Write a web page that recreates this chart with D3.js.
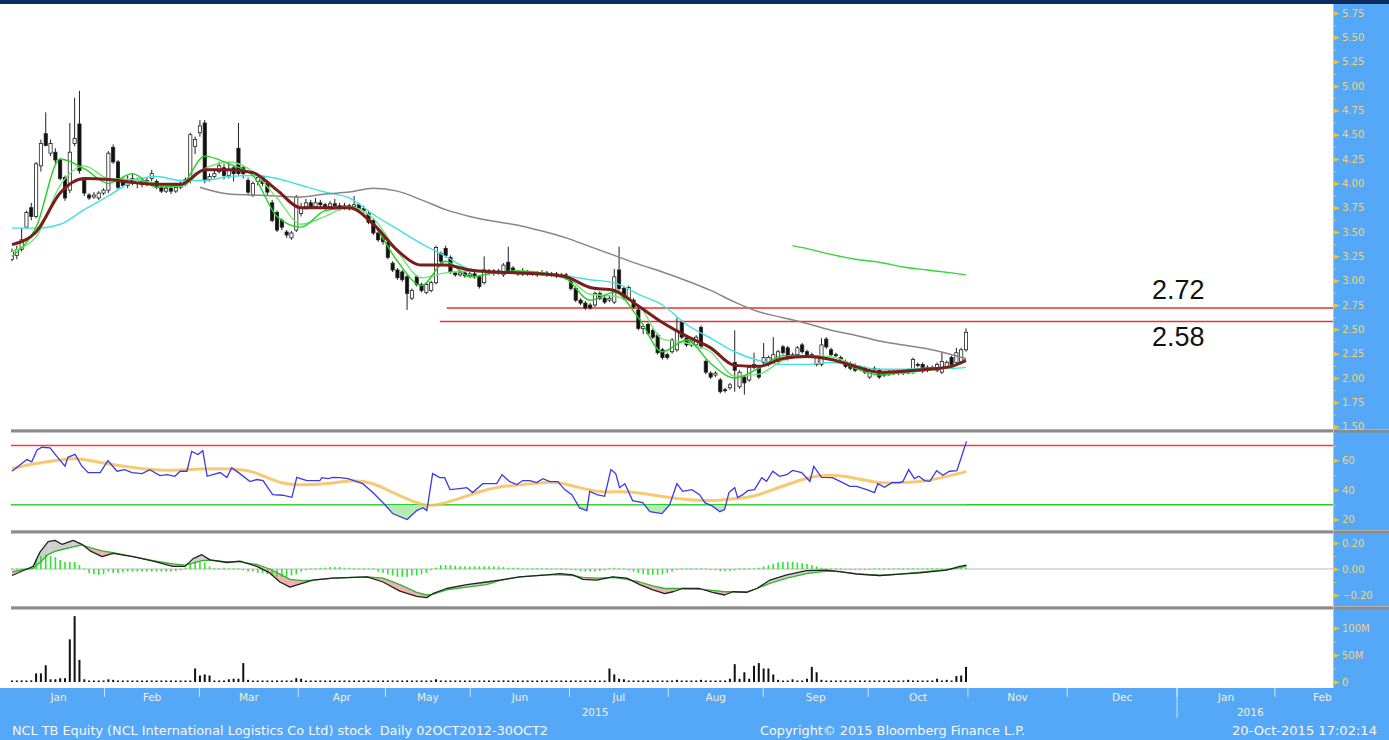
<!DOCTYPE html>
<html>
<head>
<meta charset="utf-8">
<script src="https://cdnjs.cloudflare.com/ajax/libs/d3/7.8.5/d3.min.js"></script>
<style>
  body { margin: 0; background: #fff; }
  svg { display: block; }
</style>
</head>
<body>
<svg id="chart" width="1389" height="740"></svg>
<script>
// ---- daily candles, trading day 0 .. 198 (Jan - 20 Oct 2015) ----
const openPx = [
  3.22,3.26,3.32,3.55,3.75,3.66,4.18,4.51,4.31,4.32,
  4.24,4.06,3.93,4.41,4.61,4.03,3.88,3.86,3.85,3.90,
  3.93,4.37,4.22,4.03,3.98,4.05,4.00,4.03,3.99,4.05,
  4.02,3.96,3.92,3.95,3.92,3.96,3.99,4.03,4.38,4.52,
  4.62,4.04,4.07,4.12,4.16,4.08,4.16,4.36,4.16,4.03,
  3.88,4.02,4.06,4.00,3.80,3.70,3.62,3.50,3.44,3.52,
  3.69,3.76,3.80,3.76,3.80,3.78,3.76,3.79,3.77,3.75,
  3.77,3.76,3.78,3.74,3.69,3.62,3.49,3.44,3.39,3.18,
  3.11,3.09,3.04,2.82,3.04,2.96,2.88,2.90,2.98,3.28,
  3.33,3.24,3.08,3.06,3.08,3.05,3.07,3.04,2.98,3.10,
  3.08,3.10,3.06,3.19,3.13,3.09,3.07,3.09,3.07,3.08,
  3.06,3.08,3.06,3.07,3.05,3.06,3.01,2.92,2.80,2.77,
  2.75,2.75,2.87,2.82,2.80,2.78,3.11,2.92,2.82,2.80,
  2.70,2.51,2.55,2.49,2.44,2.29,2.24,2.27,2.29,2.57,
  2.41,2.34,2.34,2.52,2.17,2.05,2.03,1.98,1.88,1.90,
  2.16,1.91,2.01,1.98,2.11,2.10,2.16,2.14,2.17,2.17,
  2.32,2.31,2.22,2.24,2.34,2.27,2.24,2.14,2.14,2.40,
  2.29,2.24,2.21,2.17,2.15,2.13,2.10,2.10,2.01,2.09,
  2.08,2.05,2.04,2.06,2.05,2.07,2.05,2.06,2.14,2.14,
  2.11,2.10,2.08,2.06,2.12,2.21,2.16,2.17,2.29
];
const highPx = [
  3.33,3.36,3.54,3.72,3.80,4.22,4.45,4.73,4.45,4.36,
  4.26,4.08,4.62,4.88,4.95,4.06,3.90,3.91,3.92,3.95,
  4.33,4.40,4.24,4.06,4.08,4.10,4.06,4.05,4.06,4.14,
  4.04,3.98,3.98,3.97,3.98,4.02,4.06,4.52,4.48,4.65,
  4.65,4.10,4.14,4.22,4.20,4.22,4.18,4.62,4.18,4.06,
  4.02,4.08,4.08,4.03,3.83,3.72,3.64,3.52,3.51,3.88,
  3.80,3.84,3.83,3.85,3.83,3.80,3.82,3.84,3.80,3.80,
  3.79,3.87,3.80,3.77,3.72,3.64,3.51,3.46,3.41,3.20,
  3.13,3.11,3.06,2.92,3.06,2.98,2.98,3.00,3.36,3.30,
  3.36,3.26,3.10,3.11,3.10,3.09,3.10,3.06,3.25,3.12,
  3.12,3.12,3.18,3.35,3.15,3.11,3.13,3.11,3.10,3.10,
  3.11,3.10,3.09,3.09,3.08,3.08,3.03,2.94,2.82,2.79,
  2.77,2.89,2.89,2.84,2.85,3.12,3.35,2.94,2.95,2.82,
  2.72,2.55,2.57,2.51,2.46,2.31,2.26,2.41,2.62,2.59,
  2.43,2.41,2.44,2.54,2.19,2.07,2.07,2.00,1.90,1.95,
  2.49,2.08,2.03,2.13,2.26,2.12,2.36,2.23,2.42,2.29,
  2.34,2.33,2.26,2.33,2.36,2.29,2.26,2.23,2.41,2.42,
  2.31,2.26,2.23,2.19,2.17,2.15,2.13,2.12,2.10,2.12,
  2.10,2.07,2.08,2.08,2.09,2.09,2.10,2.21,2.16,2.16,
  2.13,2.13,2.16,2.26,2.18,2.23,2.31,2.31,2.51
];
const lowPx = [
  3.20,3.22,3.30,3.54,3.62,3.64,4.12,4.38,4.28,4.20,
  4.03,3.82,3.90,4.38,4.10,3.87,3.83,3.84,3.83,3.88,
  3.90,4.20,3.94,3.96,3.95,3.98,3.95,3.96,3.97,4.02,
  3.94,3.90,3.90,3.89,3.90,3.94,3.97,4.00,4.30,4.48,
  4.00,4.02,4.05,4.10,4.04,4.05,4.02,4.08,4.05,3.88,
  3.86,3.98,3.97,3.88,3.60,3.50,3.52,3.44,3.42,3.50,
  3.66,3.73,3.74,3.74,3.75,3.73,3.74,3.75,3.72,3.73,
  3.72,3.74,3.72,3.70,3.58,3.47,3.40,3.37,3.22,3.09,
  3.01,2.99,2.70,2.80,2.94,2.88,2.86,2.88,2.96,3.18,
  3.24,3.07,3.04,3.04,3.03,3.03,3.02,2.92,2.96,3.06,
  3.05,3.06,3.04,3.07,3.07,3.05,3.05,3.05,3.05,3.04,
  3.05,3.04,3.04,3.03,3.03,3.01,2.90,2.78,2.75,2.70,
  2.70,2.73,2.80,2.76,2.78,2.76,2.90,2.80,2.80,2.71,
  2.49,2.45,2.44,2.40,2.24,2.19,2.19,2.25,2.27,2.40,
  2.32,2.32,2.32,2.30,2.04,1.99,2.01,1.84,1.85,1.88,
  1.86,1.89,1.83,1.96,2.09,1.99,2.14,2.12,2.15,2.15,
  2.24,2.18,2.20,2.22,2.25,2.22,2.21,2.12,2.12,2.30,
  2.22,2.21,2.17,2.10,2.08,2.06,2.08,2.04,1.99,2.07,
  1.99,2.01,2.02,2.03,2.03,2.03,2.04,2.04,2.11,2.05,
  2.06,2.08,2.06,2.04,2.10,2.12,2.14,2.15,2.27
];
const closePx = [
  3.30,3.32,3.42,3.70,3.66,4.20,4.41,4.39,4.41,4.24,
  4.05,3.85,4.32,4.46,4.13,3.90,3.85,3.88,3.90,3.93,
  4.31,4.22,3.96,3.98,4.02,4.00,4.04,3.99,4.03,4.10,
  3.96,3.92,3.95,3.92,3.96,4.00,4.04,4.50,4.45,4.59,
  4.03,4.07,4.10,4.18,4.08,4.14,4.10,4.10,4.10,3.91,
  4.00,4.06,4.00,3.91,3.62,3.52,3.55,3.47,3.49,3.86,
  3.75,3.80,3.76,3.80,3.78,3.76,3.79,3.77,3.75,3.77,
  3.74,3.78,3.74,3.72,3.60,3.49,3.42,3.40,3.24,3.11,
  3.03,3.01,2.87,2.90,2.96,2.90,2.96,2.98,3.34,3.20,
  3.26,3.09,3.06,3.08,3.05,3.07,3.04,2.94,3.11,3.08,
  3.10,3.08,3.16,3.09,3.09,3.07,3.09,3.07,3.08,3.06,
  3.08,3.06,3.07,3.05,3.06,3.03,2.92,2.80,2.77,2.72,
  2.72,2.87,2.82,2.78,2.82,3.04,2.92,2.82,2.93,2.73,
  2.51,2.53,2.46,2.42,2.26,2.21,2.21,2.39,2.49,2.42,
  2.34,2.39,2.42,2.32,2.06,2.01,2.05,1.86,1.87,1.93,
  2.08,2.06,1.95,2.11,2.14,2.01,2.21,2.21,2.24,2.27,
  2.26,2.20,2.24,2.31,2.27,2.24,2.23,2.21,2.34,2.32,
  2.24,2.23,2.19,2.12,2.10,2.08,2.11,2.06,2.08,2.10,
  2.01,2.03,2.06,2.05,2.07,2.05,2.08,2.19,2.13,2.07,
  2.08,2.11,2.14,2.17,2.16,2.14,2.26,2.29,2.47
];
// volume, millions of shares
const volumeM = [
  2,2,3,2,3,16,16,31,5,5,
  7,7,79,122,41,5,2,2,2,2,
  5,4,2,2,2,2,2,2,2,2,
  2,2,2,2,2,2,2,2,25,12,
  14,12,2,2,2,5,6,6,35,4,
  2,2,2,2,2,2,2,2,2,7,
  6,2,2,2,2,2,2,2,2,2,
  2,2,2,2,2,2,2,2,2,2,
  2,2,3,2,2,2,2,2,5,2,
  2,2,2,2,2,2,2,2,2,2,
  2,2,3,2,2,2,2,2,2,2,
  2,2,2,2,2,2,2,2,2,2,
  3,2,2,2,25,14,6,5,2,2,
  2,2,2,2,2,2,2,2,4,2,
  2,2,2,4,2,2,2,2,2,6,
  33,6,18,6,30,35,25,25,14,4,
  2,2,5,2,2,6,28,18,4,2,
  2,2,2,2,2,2,2,2,2,2,
  2,2,2,2,2,2,4,2,2,2,
  2,2,6,2,4,2,11,12,28
];

// ---- moving averages, read every 5 trading days ----
const maDays  = [0,5,10,15,20,25,30,35,40,45,50,55,60,65,70,75,80,85,90,95,100,
                 105,110,115,120,125,130,135,140,145,150,155,160,165,170,175,180,185,190,195,198];
const maFast  = [3.25,3.55,4.25,4.15,4.00,4.10,3.96,3.98,4.28,4.20,4.08,3.66,3.55,3.72,3.75,3.58,3.20,2.95,3.20,3.04,3.08,
                 3.10,3.08,3.02,2.80,2.88,2.62,2.27,2.39,2.15,2.00,2.10,2.23,2.23,2.20,2.10,2.03,2.06,2.08,2.12,2.20];
const maMid   = [3.30,3.45,3.98,4.18,4.05,4.04,4.00,3.97,4.15,4.22,4.12,3.85,3.58,3.66,3.76,3.64,3.30,3.03,3.08,3.10,3.08,
                 3.10,3.08,3.04,2.86,2.84,2.75,2.40,2.36,2.27,2.02,2.04,2.18,2.23,2.22,2.13,2.05,2.05,2.08,2.11,2.17];
const maBrown = [3.37,3.50,3.90,4.05,4.04,4.01,3.99,3.99,4.14,4.14,4.11,3.93,3.75,3.75,3.75,3.58,3.31,3.16,3.16,3.11,3.09,
                 3.08,3.07,3.04,2.93,2.90,2.74,2.57,2.43,2.31,2.13,2.12,2.20,2.22,2.19,2.12,2.06,2.07,2.09,2.12,2.18];
const maCyan  = [3.54,3.54,3.58,3.73,3.87,4.02,4.07,4.03,4.03,4.07,4.08,4.05,3.98,3.91,3.85,3.68,3.53,3.38,3.25,3.12,3.09,
                 3.08,3.07,3.05,3.01,2.98,2.86,2.75,2.55,2.41,2.27,2.18,2.14,2.14,2.16,2.13,2.09,2.09,2.10,2.10,2.11];
const greyDays = [39,45,50,55,60,65,70,75,80,85,90,95,100,105,110,115,120,125,130,135,140,145,150,155,160,165,170,175,180,185,190,195,198];
const maGrey   = [3.96,3.89,3.88,3.87,3.86,3.89,3.91,3.95,3.92,3.83,3.73,3.66,3.61,3.57,3.51,3.44,3.35,3.26,3.17,3.09,3.00,
                  2.90,2.78,2.68,2.62,2.56,2.49,2.44,2.38,2.34,2.30,2.24,2.20];
const longDays = [162,165,170,175,180,185,190,195,198];
const maLong   = [3.36,3.33,3.27,3.22,3.19,3.14,3.11,3.08,3.06];

// horizontal price levels
const priceLevels = [2.72, 2.58];
const levelStartDay = [90.2, 88.8];

// ---- RSI [day, value] ----
const rsi = [[0,52.6],[1.7,57],[3.1,60.5],[4.1,59],[5.2,67],[6.2,68.8],[7.9,68.4],[9.3,62.7],[11,56],[11.6,62],
  [13.1,64],[14.5,56],[15.8,51.7],[18.3,51.7],[19.9,59.8],[21.8,52.6],[23.4,53.7],[24.9,51.7],[27,51],[28.6,53.7],
  [30.7,49.7],[32.2,50.3],[33.8,49.2],[34.9,52.6],[36.3,52.6],[37.3,66],[38.6,63.9],[39.6,66.5],[40.5,49.2],[43.2,51.7],
  [44.6,48.3],[45.6,55],[47.3,51],[49.4,45.6],[50.8,47],[52.1,46.3],[54.1,36.8],[56.2,36.4],[58.1,35],[59.1,48.5],
  [61.2,46.3],[63.9,46.3],[64.3,48.3],[65.6,47.6],[66.6,48.5],[68,48.3],[69.7,47.6],[72.8,44.2],[74.9,38.2],[77.4,30],
  [79,24],[82,20],[84,26],[85.3,28],[86.1,26],[87.3,51],[88.8,48.3],[89.8,48.3],[90.9,40.2],[92.9,40.9],
  [94.4,41.5],[95.6,38.2],[97.7,44.2],[100.6,44.2],[101.7,50.3],[103.3,45.6],[104.8,43.6],[106,46.3],[107.5,46.3],[108.9,44.9],
  [110.2,47.6],[111.6,45.6],[113.3,45.6],[114.7,40.2],[116.2,36.8],[117.8,27.8],[119.3,26],[119.9,39],[121.4,36.8],[123,35.7],
  [124.3,53.7],[125.3,51],[126.1,41.5],[127.2,44.2],[128.8,32.8],[130.9,31.4],[132.4,25.3],[134.9,24],[136.5,30],[138,44.2],
  [139.2,39],[141.1,40.2],[142.7,36.8],[143.8,31.4],[145.4,29],[146.9,25.3],[147.9,26.7],[148.8,38.2],[150,41.5],[150.6,34.8],
  [151.7,36.8],[152.7,39.5],[154.1,40.2],[155.6,48.3],[156.6,45.8],[157.9,52.6],[159.3,49.2],[160.8,50.3],[162,53.2],[163.9,51.7],
  [165.6,45.8],[166.4,56],[168,48.5],[170.3,48.3],[172.4,44.9],[173.9,42.4],[175.3,42.4],[177.4,40.2],[179,38.2],[179.7,44.2],
  [181.1,41.8],[182.6,44.9],[184.2,44.9],[184.9,45.6],[186.1,53.7],[187.3,47.6],[188.2,49.2],[189.4,46.3],[190.5,45.8],[191.9,53],
  [193.2,49.9],[194.6,52.6],[196.1,53],[197.1,62.7],[198.1,72.8]];
const rsiSignal = [[0,54.4],[4.4,57.8],[10.6,60.5],[13.5,61.6],[18.3,58.4],[25.1,55],[32.2,52.6],[39,54.4],[45.9,54.4],[50,52.6],
  [52.9,48.3],[56.2,44.2],[59.8,43.1],[66.6,44.2],[70.7,47],[74.9,44.9],[79,38.2],[83.2,32],[86.1,29],[88.8,30],
  [92.9,34.1],[97.1,39],[101.2,42.4],[105.4,43.1],[111,45.6],[113.7,44.9],[117.8,41.5],[122,38.2],[126.1,39],[130.3,38.2],
  [135.9,35],[140,33.4],[145.4,32.3],[149.6,34.1],[153.7,35],[157.9,40.2],[162,44.9],[166.2,49.2],[169.7,50.3],[174.5,48.5],
  [180.1,44.2],[184.2,44.9],[189.9,45.8],[194,49.2],[198.1,52.4]];
const rsiUpper = 70, rsiLower = 30;

// ---- MACD ----
const macdDays = [0,3.1,4.4,5.8,7.5,8.9,10.4,12.7,14.5,16.2,18.7,21,25.1,29.3,33.4,35.9,37.6,39.4,41.1,44.6,
  47.3,50.8,53.5,55.6,57.7,60.2,62.4,66.6,73.7,77,80.5,84,86.1,87.3,90.2,94.4,98.5,101.2,105.4,111,
  113.7,116.4,118.5,121.4,124.7,127.6,130.3,133,135.5,137.2,139.2,142.7,145.4,147.9,149.6,152.5,154.6,157.3,160.8,164.9,
  169.1,171.8,175.3,180.1,184.2,188.4,194,196.7,198.1];
const macdLine = [-0.05,0.0,0.02,0.13,0.21,0.22,0.19,0.22,0.19,0.14,0.095,0.12,0.095,0.06,0.02,0.02,0.08,0.11,0.07,0.05,
  0.06,0.02,-0.03,-0.10,-0.14,-0.11,-0.085,-0.07,-0.06,-0.10,-0.17,-0.21,-0.22,-0.19,-0.15,-0.12,-0.10,-0.085,-0.06,-0.045,
  -0.035,-0.045,-0.08,-0.085,-0.06,-0.07,-0.12,-0.16,-0.19,-0.175,-0.15,-0.15,-0.18,-0.20,-0.175,-0.18,-0.15,-0.085,-0.045,-0.013,
  -0.008,-0.02,-0.04,-0.05,-0.04,-0.03,-0.008,0.02,0.03];
const macdSignal = [-0.02,0.0,0.005,0.05,0.11,0.135,0.15,0.17,0.185,0.165,0.14,0.125,0.095,0.065,0.04,0.03,0.045,0.065,0.068,0.055,
  0.055,0.035,0.0,-0.04,-0.08,-0.09,-0.085,-0.07,-0.06,-0.07,-0.12,-0.18,-0.20,-0.195,-0.16,-0.14,-0.12,-0.09,-0.06,-0.045,
  -0.045,-0.05,-0.065,-0.07,-0.065,-0.08,-0.10,-0.13,-0.15,-0.15,-0.15,-0.155,-0.165,-0.175,-0.175,-0.175,-0.15,-0.11,-0.07,-0.035,
  -0.017,-0.02,-0.035,-0.05,-0.04,-0.025,-0.005,0.01,0.02];
const macdHist = [
  0,0,0,0,0.01,0.075,0.10,0.115,0.10,0.09,
  0.07,0.055,0.055,0.055,0.03,0,-0.03,-0.04,-0.045,-0.04,
  -0.02,-0.03,-0.03,-0.025,-0.02,-0.02,-0.02,-0.02,-0.02,-0.02,
  -0.02,-0.02,-0.02,-0.02,-0.015,-0.01,0.01,0.04,0.06,0.06,
  0.05,0.02,0.005,0.005,0.01,0.005,0.005,0.005,-0.01,-0.02,
  -0.02,-0.03,-0.03,-0.04,-0.05,-0.06,-0.06,-0.06,-0.05,-0.04,
  -0.02,-0.01,0.005,0.005,0.01,0.01,0.015,0.015,0.015,0.01,
  0.01,0.005,0.005,0.005,0,0,-0.02,-0.03,-0.04,-0.05,
  -0.06,-0.06,-0.06,-0.05,-0.05,-0.04,-0.03,-0.01,0.01,0.03,
  0.03,0.03,0.025,0.02,0.02,0.02,0.02,0.02,0.02,0.02,
  0.02,0.02,0.015,0.01,0.01,0.01,0.005,0.005,0.005,0.005,
  0.005,0.005,0,0,0,0,-0.005,-0.01,-0.015,-0.02,
  -0.02,-0.02,-0.015,-0.01,0.005,0.01,0.005,0,-0.01,-0.02,
  -0.03,-0.04,-0.045,-0.045,-0.045,-0.04,-0.03,-0.02,-0.005,0,
  0,0,0,0,0,-0.005,-0.01,-0.015,-0.015,-0.015,
  -0.01,0,0.005,0.005,0.005,0.01,0.02,0.03,0.04,0.05,
  0.055,0.055,0.055,0.05,0.045,0.04,0.03,0.02,0.01,0.005,
  0.005,0,0,-0.005,-0.005,-0.005,-0.005,-0.005,-0.005,0,
  0,0,0,0.005,0.005,0.005,0.005,0.005,0.005,0.005,
  0.005,0.005,0.005,0.005,0.005,0.005,0.01,0.01,0.01
];

// ---- time axis (positions in trading-day units) ----
const monthStarts = [0,19.1,38.8,59.3,77.4,95,115.6,136.1,155.8,177.6,198.3,218.9,241.7,262,281.7];
const monthNames  = ["Jan","Feb","Mar","Apr","May","Jun","Jul","Aug","Sep","Oct","Nov","Dec","Jan","Feb"];
const yearStarts  = [241.7];
const yearLabels  = ["2015","2016"];
const yearLabelDays = [121, 257];

const priceTicks = [1.5,1.75,2,2.25,2.5,2.75,3,3.25,3.5,3.75,4,4.25,4.5,4.75,5,5.25,5.5,5.75];
const rsiTicks = [20,40,60];
const macdTicks = [-0.2,0,0.2];
const volTicks = [0,50,100];

// ---------------------------------------------------------------
const W = 1389, H = 740;
const LEFT = 11, AXIS_X = 1333;
const BLUE = "#55a8f8", AXIS_COL = "#f0c232", LABEL_COL = "#f3d27a";
const FONT = "'DejaVu Sans', Verdana, sans-serif";

const svg = d3.select("#chart");

const x = d3.scaleLinear().domain([0, 198]).range([12, 966]);
const yPx = d3.scaleLinear().domain([1.5, 5.75]).range([426.7, 13]);
const yRsi = d3.scaleLinear().domain([20, 70]).range([519.5, 445.5]);
const yMacd = d3.scaleLinear().domain([-0.2, 0.2]).range([595, 543]);
const yVol = d3.scaleLinear().domain([0, 100]).range([682, 628]);

// backgrounds
svg.append("rect").attr("width", W).attr("height", H).attr("fill", "#fff");
svg.append("rect").attr("x", 0).attr("y", 0).attr("width", W).attr("height", 4).attr("fill", "#0d2c5e");
svg.append("rect").attr("x", AXIS_X).attr("y", 4).attr("width", W - AXIS_X).attr("height", 684).attr("fill", BLUE);
svg.append("rect").attr("x", 0).attr("y", 688).attr("width", W).attr("height", H - 688).attr("fill", BLUE);

const defs = svg.append("defs");
function clip(id, y0, y1) {
  defs.append("clipPath").attr("id", id).append("rect")
    .attr("x", LEFT).attr("y", y0).attr("width", AXIS_X - LEFT).attr("height", y1 - y0);
  return svg.append("g").attr("clip-path", `url(#${id})`);
}
const gPrice = clip("cp", 4, 428);
const gRsi = clip("cr", 432, 529);
const gMacd = clip("cm", 533, 605);
const gVol = clip("cv", 609, 688);

// ---- price panel ----
const days = d3.range(closePx.length);

gPrice.selectAll(".level").data(priceLevels).join("line")
  .attr("x1", (d, i) => x(levelStartDay[i])).attr("x2", AXIS_X)
  .attr("y1", d => yPx(d)).attr("y2", d => yPx(d))
  .attr("stroke", "#ee3030").attr("stroke-width", 1.4);

const candle = gPrice.selectAll(".candle").data(days).join("g");
candle.append("line")
  .attr("x1", i => x(i)).attr("x2", i => x(i))
  .attr("y1", i => yPx(highPx[i])).attr("y2", i => yPx(lowPx[i]))
  .attr("stroke", "#222").attr("stroke-width", 1);
candle.append("rect")
  .attr("x", i => x(i) - 1.6).attr("width", 3.2)
  .attr("y", i => yPx(Math.max(openPx[i], closePx[i])))
  .attr("height", i => Math.max(1, Math.abs(yPx(openPx[i]) - yPx(closePx[i]))))
  .attr("fill", i => closePx[i] >= openPx[i] ? "#fff" : "#111")
  .attr("stroke", "#222").attr("stroke-width", 0.8);

function maLine(g, dayArr, vals, color, width, yScale, curve) {
  const line = d3.line().x(d => x(d[0])).y(d => yScale(d[1])).curve(curve || d3.curveMonotoneX);
  g.append("path").datum(dayArr.map((d, i) => [d, vals[i]]))
    .attr("d", line).attr("fill", "none").attr("stroke", color)
    .attr("stroke-width", width).attr("stroke-linejoin", "round");
}
maLine(gPrice, maDays, maCyan, "#3fe2e2", 1.4, yPx);
maLine(gPrice, greyDays, maGrey, "#8a8486", 1.5, yPx);
maLine(gPrice, longDays, maLong, "#33d633", 1.4, yPx);
maLine(gPrice, maDays, maMid, "#74e474", 1.4, yPx);
maLine(gPrice, maDays, maFast, "#22cf22", 1.4, yPx);
maLine(gPrice, maDays, maBrown, "#7a1d1d", 3, yPx);

// level labels
svg.selectAll(".lvlText").data(priceLevels).join("text")
  .attr("x", 1152).attr("y", (d, i) => i === 0 ? yPx(d) - 9 : yPx(d) + 24)
  .attr("font-family", "'Liberation Sans', Arial, sans-serif").attr("font-size", 27)
  .attr("fill", "#111").text(d => d.toFixed(2));

// ---- RSI panel ----
[[rsiUpper, "#ff3838"], [rsiLower, "#22cc22"]].forEach(([v, c]) => {
  gRsi.append("line").attr("x1", LEFT).attr("x2", AXIS_X)
    .attr("y1", yRsi(v)).attr("y2", yRsi(v)).attr("stroke", c).attr("stroke-width", 1.4);
});
defs.append("clipPath").attr("id", "below30").append("rect")
  .attr("x", LEFT).attr("y", yRsi(rsiLower)).attr("width", AXIS_X - LEFT).attr("height", 529 - yRsi(rsiLower));
gRsi.append("path").datum(rsi)
  .attr("clip-path", "url(#below30)")
  .attr("d", d3.area().x(d => x(d[0])).y0(yRsi(rsiLower)).y1(d => yRsi(d[1])))
  .attr("fill", "#b4ecb4");
gRsi.append("path").datum(rsiSignal)
  .attr("d", d3.line().x(d => x(d[0])).y(d => yRsi(d[1])).curve(d3.curveBasis))
  .attr("fill", "none").attr("stroke", "#f6bf5c").attr("stroke-width", 3).attr("stroke-opacity", 0.85);
gRsi.append("path").datum(rsi)
  .attr("d", d3.line().x(d => x(d[0])).y(d => yRsi(d[1])))
  .attr("fill", "none").attr("stroke", "#3a3ae6").attr("stroke-width", 1.3);

// ---- MACD panel ----
gMacd.append("line").attr("x1", LEFT).attr("x2", AXIS_X)
  .attr("y1", yMacd(0)).attr("y2", yMacd(0)).attr("stroke", "#a8a8a8").attr("stroke-width", 0.8);
gMacd.selectAll(".mfill").data(d3.range(macdDays.length - 1)).join("path")
  .attr("d", i => {
    const a = macdDays[i], b = macdDays[i + 1];
    return `M${x(a)},${yMacd(macdLine[i])}L${x(b)},${yMacd(macdLine[i + 1])}` +
           `L${x(b)},${yMacd(macdSignal[i + 1])}L${x(a)},${yMacd(macdSignal[i])}Z`;
  })
  .attr("fill", i => (macdLine[i] + macdLine[i + 1]) >= (macdSignal[i] + macdSignal[i + 1]) ? "#cfcfcf" : "#f2b1b1")
  .attr("stroke", "none");
gMacd.selectAll(".hist").data(days).join("rect")
  .attr("x", i => x(i) - 0.8).attr("width", 1.6)
  .attr("y", i => Math.min(yMacd(0), yMacd(macdHist[i])) - (macdHist[i] === 0 ? 0.5 : 0))
  .attr("height", i => Math.max(1, Math.abs(yMacd(macdHist[i]) - yMacd(0))))
  .attr("fill", "#2de52d");
maLine(gMacd, macdDays, macdSignal, "#2fb42f", 1.3, yMacd, d3.curveLinear);
maLine(gMacd, macdDays, macdLine, "#222", 1.3, yMacd, d3.curveLinear);

// ---- volume panel ----
gVol.selectAll(".vol").data(days).join("rect")
  .attr("x", i => x(i) - 1).attr("width", 2)
  .attr("y", i => Math.min(yVol(volumeM[i]), yVol(0) - 1.5))
  .attr("height", i => Math.max(1.5, yVol(0) - yVol(volumeM[i])))
  .attr("fill", "#111");

// ---- panel separators ----
[429, 530, 606].forEach(y => {
  svg.append("rect").attr("x", LEFT).attr("y", y).attr("width", W - LEFT).attr("height", 3.5).attr("fill", "#8b8b8b");
  svg.append("rect").attr("x", LEFT).attr("y", y).attr("width", W - LEFT).attr("height", 1).attr("fill", "#b0b0b0");
});

// ---- right axes ----
svg.append("line").attr("x1", AXIS_X + 0.5).attr("x2", AXIS_X + 0.5).attr("y1", 4).attr("y2", 688)
  .attr("stroke", AXIS_COL).attr("stroke-width", 1);

function rightAxis(scale, major, minor, fmt) {
  const gm = svg.append("g").attr("transform", `translate(${AXIS_X},0)`)
    .call(d3.axisRight(scale).tickValues(minor).tickSize(3).tickSizeOuter(0).tickFormat(""));
  gm.select(".domain").remove();
  gm.selectAll(".tick line").attr("stroke", AXIS_COL);
  const g = svg.append("g").attr("transform", `translate(${AXIS_X},0)`)
    .call(d3.axisRight(scale).tickValues(major).tickSize(6).tickSizeOuter(0).tickPadding(3).tickFormat(fmt));
  g.select(".domain").remove();
  g.attr("font-family", FONT).attr("font-size", 10);
  g.selectAll(".tick line").attr("stroke", AXIS_COL).attr("stroke-width", 1);
  g.selectAll(".tick").append("path").attr("d", "M0,-2.6L7,0L0,2.6Z").attr("fill", AXIS_COL);
  g.selectAll(".tick text").attr("fill", LABEL_COL);
}
rightAxis(yPx, priceTicks, priceTicks.slice(1).map((t, i) => (t + priceTicks[i]) / 2), d3.format(".2f"));
rightAxis(yRsi, rsiTicks, [30, 50, 70], d3.format("d"));
rightAxis(yMacd, macdTicks, [-0.1, 0.1], d3.format(".2f"));
rightAxis(yVol, volTicks, [25, 75], v => v === 0 ? "0" : v + "M");

// ---- bottom time axis ----
const gTick = svg.append("g").attr("transform", "translate(0,688)")
  .call(d3.axisBottom(x).tickValues(monthStarts.slice(1, -1)).tickSize(9).tickSizeOuter(0).tickFormat(""));
gTick.select(".domain").remove();
gTick.selectAll(".tick line").attr("stroke", "#cfe2fb");

const gYear = svg.append("g").attr("transform", "translate(0,688)")
  .call(d3.axisBottom(x).tickValues(yearStarts).tickSize(30).tickSizeOuter(0).tickFormat(""));
gYear.select(".domain").remove();
gYear.selectAll(".tick line").attr("stroke", "#cfe2fb");

const monthMids = monthNames.map((m, i) => (monthStarts[i] + monthStarts[i + 1]) / 2);
const gMon = svg.append("g").attr("transform", "translate(0,688)")
  .call(d3.axisBottom(x).tickValues(monthMids).tickSize(0).tickPadding(6).tickFormat((d, i) => monthNames[i]));
gMon.select(".domain").remove();
gMon.attr("font-family", FONT).attr("font-size", 10.5);
gMon.selectAll(".tick text").attr("fill", "#f3edd6");

svg.selectAll(".yr").data(yearLabels).join("text")
  .attr("x", (d, i) => x(yearLabelDays[i])).attr("y", 716)
  .attr("text-anchor", "middle").attr("font-family", FONT).attr("font-size", 10.5)
  .attr("fill", "#f3edd6").text(d => d);

// footer
const footer = [
  ["NCL TB Equity (NCL International Logistics Co Ltd) stock  Daily 02OCT2012-30OCT2", 12, 536],
  ["Copyright\u00A9 2015 Bloomberg Finance L.P.", 760, 265],
  ["20-Oct-2015 17:02:14", 1232, 145]
];
svg.selectAll(".foot").data(footer).join("text")
  .attr("x", d => d[1]).attr("y", 735)
  .attr("textLength", d => d[2]).attr("lengthAdjust", "spacingAndGlyphs")
  .attr("font-family", FONT).attr("font-size", 11.5)
  .attr("fill", "#f7f7f7").attr("xml:space", "preserve").text(d => d[0]);
</script>
</body>
</html>
